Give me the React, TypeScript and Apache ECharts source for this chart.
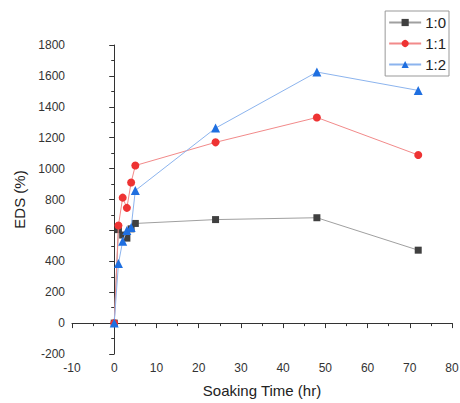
import React, { useEffect, useRef } from "react";
import * as echarts from "echarts";

const times = [0, 1, 2, 3, 4, 5, 24, 48, 72];
const series10 = [0, 605, 570, 550, 610, 645, 670, 682, 472];
const series11 = [0, 632, 812, 746, 910, 1020, 1170, 1331, 1088];
const series12 = [0, 385, 530, 600, 618, 858, 1262, 1625, 1506];
const seriesNames = ["1:0", "1:1", "1:2"];

const pair = (vals: number[]) => times.map((t, i) => [t, vals[i]]);

export default function App() {
  const ref = useRef<HTMLDivElement>(null);
  useEffect(() => {
    if (!ref.current) return;
    const chart = echarts.init(ref.current, null, { renderer: "svg" });
    const font = "Liberation Sans, Arial, sans-serif";
    chart.setOption({
      animation: false,
      backgroundColor: "#fff",
      textStyle: { fontFamily: font },
      grid: { left: 72, right: 8, top: 45, bottom: 49, containLabel: false, outerBoundsMode: "none" },
      legend: {
        right: 11,
        top: 11,
        orient: "vertical",
        itemGap: 6,
        itemWidth: 32,
        itemHeight: 9,
        padding: [4, 3, 4, 3],
        borderColor: "#999",
        borderWidth: 1,
        textStyle: { fontSize: 15, color: "#222", fontFamily: font, padding: [0, 0, 0, -1] },
        data: seriesNames,
      },
      xAxis: {
        type: "value",
        min: -10,
        max: 80,
        interval: 10,
        name: "Soaking Time (hr)",
        nameLocation: "middle",
        nameGap: 29,
        nameTextStyle: { fontSize: 15, color: "#222" },
        axisLine: { lineStyle: { color: "#333" } },
        axisTick: { inside: false, length: 5, lineStyle: { color: "#333" } },
        minorTick: { show: true, splitNumber: 2, length: 3, lineStyle: { color: "#333" } },
        splitLine: { show: false },
        axisLabel: { fontSize: 12, color: "#333", margin: 8, showMaxLabel: true, formatter: (v: number) => String(v) },
      },
      yAxis: {
        type: "value",
        min: -200,
        max: 1800,
        interval: 200,
        name: "EDS (%)",
        nameLocation: "middle",
        nameGap: 44,
        nameTextStyle: { fontSize: 15, color: "#222" },
        axisLine: { show: true, lineStyle: { color: "#333" } },
        axisTick: { show: true, inside: false, length: 5, lineStyle: { color: "#333" } },
        minorTick: { show: true, splitNumber: 2, length: 3, lineStyle: { color: "#333" } },
        splitLine: { show: false },
        axisLabel: { fontSize: 12, color: "#333", margin: 7, formatter: (v: number) => String(v) },
      },
      series: [
        {
          name: seriesNames[0],
          type: "line",
          data: pair(series10),
          symbol: "rect",
          symbolSize: 7,
          itemStyle: { color: "#404040" },
          lineStyle: { color: "#a0a0a0", width: 1 },
          z: 2,
        },
        {
          name: seriesNames[1],
          type: "line",
          data: pair(series11),
          symbol: "circle",
          symbolSize: 8,
          itemStyle: { color: "#ee3333" },
          lineStyle: { color: "#f28a8a", width: 1 },
          z: 3,
        },
        {
          name: seriesNames[2],
          type: "line",
          data: pair(series12),
          symbol: "triangle",
          symbolSize: 9,
          itemStyle: { color: "#1f6fe0" },
          lineStyle: { color: "#8cb4ee", width: 1 },
          z: 4,
        },
      ],
    });
    return () => chart.dispose();
  }, []);
  return (
    <div
      ref={ref}
      style={{ position: "fixed", left: 0, top: 0, width: 460, height: 403, background: "#fff" }}
    />
  );
}
